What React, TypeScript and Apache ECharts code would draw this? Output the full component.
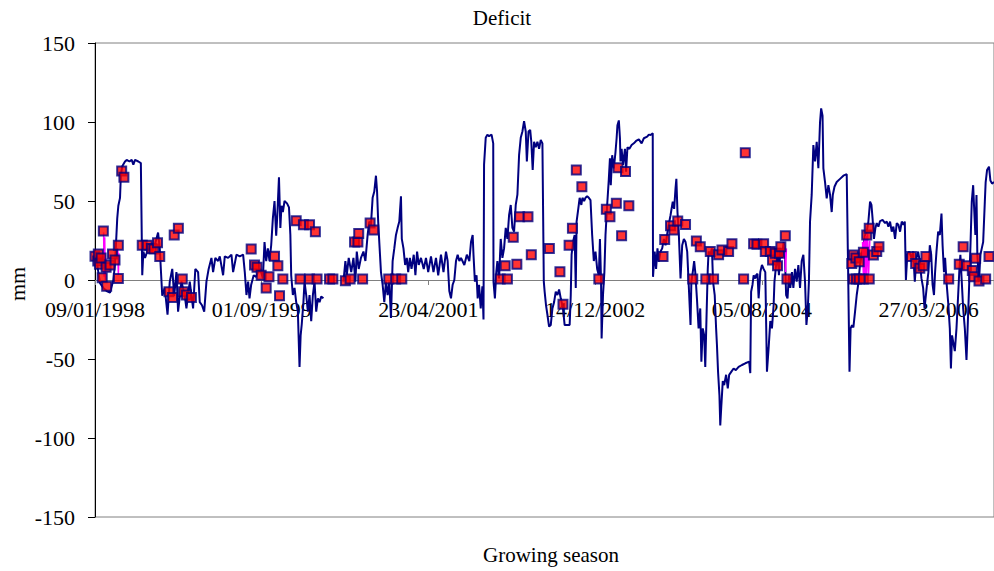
import { useEffect, useRef } from "react";
import * as echarts from "echarts";

// Days counted from the first x tick; a tick every 600 days
const xMin = 0;
const xMax = 3235;
const xInterval = 600;
const xTickLabels = ["09/01/1998", "01/09/1999", "23/04/2001", "14/12/2002", "05/08/2004", "27/03/2006"];
const yMin = -150;
const yMax = 150;
const yInterval = 50;

// Simulated deficit (navy line), day offsets and mm; null = gap in the record
const simDays = [
  0, 6, 12, 18, 30, 42, 54, 66, 72, 80, 84, 90, 93, 98, 108, 114, 124, 132, 138, 144, 156, 165, 170, 174, 180,
  192, 203, 215, 227, 233, 242, 251, 261, 269, 278, 285, 293, 299, 311, 323, 329, 341, 353, 361, 371, 377, 385,
  393, 401, 409, 419, 425, 433, 443, 449, 461, 467, 479, 491, 497, 509, 521, 533, 539, 545, 551, 556, 562, 571,
  580, 586, 595, 604, 610, 616, 622, 628, 634, 640, 646, 652, 656, 662, 667, 671, 676, 682, 691, 698, 703, 706,
  712, 718, 724, 730, 736, 740, 744, 750, 754, 760, 766, 772, 778, 784, 790, 796, 802, 808, 814, 822, 858, 894,
  901, 906, 913, 922, 930, 937, 942, 949, 957, 966, 973, 981, 987, 993, 999, 1005, 1011, 1015, 1019, 1023, 1029,
  1035, 1041, 1047, 1053, 1059, 1065, 1071, 1077, 1083, 1089, 1095, 1101, 1104, 1110, 1116, 1122, 1127, 1133,
  1139, 1147, 1153, 1159, 1165, 1173, 1183, 1191, 1199, 1209, 1218, 1227, 1235, 1245, 1254, 1263, 1269, 1275,
  1281, 1287, 1293, 1299, 1305, 1311, 1317, 1329, 1338, 1347, 1353, 1359, 1362, 1367, 1373, 1377, 1382, 1388,
  1394, 1398, 1400, 1406, 1412, 1418, 1427, 1433, 1434, 1439, 1444, 1448, 1454, 1460, 1466, 1472, 1478, 1484,
  1490, 1496, 1502, 1508, 1514, 1520, 1526, 1532, 1538, 1544, 1550, 1554, 1560, 1566, 1570, 1575, 1580, 1586,
  1592, 1598, 1604, 1610, 1615, 1618, 1623, 1628, 1634, 1640, 1646, 1652, 1658, 1664, 1670, 1676, 1684, 1690,
  1700, 1708, 1712, 1715, 1720, 1726, 1730, 1733, 1739, 1744, 1750, 1754, 1760, 1765, 1771, 1777, 1783, 1789,
  1795, 1801, 1807, 1813, 1817, 1821, 1823, 1828, 1833, 1837, 1843, 1849, 1853, 1856, 1861, 1867, 1873, 1877,
  1880, 1885, 1889, 1891, 1895, 1900, 1907, 1911, 1916, 1923, 1931, 1939, 1947, 1957, 1967, 1975, 1987, 1993,
  1999, 2007, 2008, 2014, 2019, 2024, 2029, 2035, 2041, 2047, 2053, 2062, 2071, 2079, 2084, 2089, 2092, 2096,
  2101, 2107, 2113, 2119, 2125, 2131, 2137, 2143, 2146, 2151, 2156, 2160, 2166, 2172, 2178, 2182, 2187, 2192,
  2196, 2201, 2205, 2208, 2214, 2220, 2224, 2230, 2235, 2238, 2242, 2247, 2250, 2254, 2259, 2264, 2271, 2277,
  2282, 2290, 2298, 2306, 2316, 2328, 2340, 2354, 2358, 2361, 2366, 2370, 2376, 2379, 2384, 2388, 2394, 2400,
  2406, 2412, 2418, 2424, 2430, 2436, 2442, 2445, 2451, 2456, 2461, 2466, 2472, 2478, 2482, 2487, 2492, 2497,
  2502, 2508, 2513, 2519, 2525, 2531, 2537, 2543, 2549, 2555, 2560, 2565, 2569, 2573, 2579, 2585, 2591, 2597,
  2603, 2609, 2613, 2618, 2621, 2627, 2633, 2639, 2645, 2651, 2655, 2661, 2669, 2681, 2693, 2705, 2710, 2715,
  2719, 2724, 2729, 2735, 2741, 2747, 2753, 2759, 2765, 2771, 2777, 2783, 2789, 2794, 2798, 2803, 2808, 2813,
  2819, 2825, 2834, 2843, 2849, 2855, 2861, 2867, 2873, 2879, 2885, 2891, 2897, 2903, 2909, 2914, 2918, 2923,
  2930, 2938, 2944, 2950, 2956, 2962, 2968, 2974, 2980, 2985, 2990, 2995, 2999, 3004, 3009, 3014, 3019, 3023,
  3028, 3034, 3040, 3046, 3050, 3055, 3059, 3064, 3070, 3076, 3080, 3084, 3088, 3094, 3100, 3106, 3110, 3114,
  3119, 3124, 3130, 3136, 3141, 3146, 3150, 3155, 3160, 3163, 3168, 3172, 3175, 3181, 3186, 3191, 3196, 3202,
  3205, 3210, 3217, 3222, 3228, 3235,
];
const simMm = [
  15, 12, 5, -2, -5, -7, -8, 0, 10, 39, 47, 52, 66, 72, 75, 76, 75, 76, 73, 76, 75, 74, 3, 18, 14,
  20, 18, 22, 30, 20, -10, -5, -22, -1, 7, -10, 5, -20, -1, -10, -18, -1, -18, 7, 5, -14, -16,
  -20, -1, 7, 14, 5, 14, 12, 15, 3, 15, 14, 16, 5, 16, 15, 16, 5, -9.5, -1, -11.6, -3, 3,
  2, 5, 7, 1, 24, 12, 20, 12, 22, 39, 50, 28, 41, 65, 33, 47, 43, 50, 48.5, 46, 28.5, 3,
  -9.5, -5, -14, -20, -55, -35, -28, -14, -1, -9.5, -20, -9.5, -26, -9.5, -1, -20, -11.6, -14, -10.5, -11.6, null, -1,
  12, 3, 14, 5, 14, -1, 18, 7, 14, 18, 12, 28.5, 37, 35, 52, 56, 66, 56, 37, 24, 5,
  -3, -14, -1, -9.5, -1, -24, 12, 20, 28.5, 33, 37, 53, 26, 20, 9.5, 14, 5, 14,
  7, 16, 3, 18, 9.5, 14, 7, 14, 5, 15, 5, 14, 3, 16, 5, 18, 12, -7,
  -11.6, -3, 0, 12, 16, 12, 14, 9.5, 16, 12, 24, 28.5, 16, -1, 3, -11.6, -3, -18,
  -4, -25, 73, 90, 92, 91, 92, 86.5, -1, -11.6, 5, 12, 1, 26, 14, 20, 33, 26,
  41, 47.5, 33, 30.6, 47.5, 54, 79, 90, 94, 100.6, 94, 75, 94, 95, 87.5, 69.6, 87.5, 84,
  87.5, 83, 88.6, 86.5, -1, -7.4, -16, -22, -29.5, -28.5, -18, -14, -7.4, -9.5, -6, -11.6, -18, -28.5,
  -28.5, -28.5, -9.5, 16, 24, 28.5, -5, 37, 45, 52, 47.5, 52, 50, 52, 53, 52, 50.6, 28.5,
  12, 18, 7, 3, 26, -1, -37, -9.5, 5, 28.5, 47.5, 64, 77, 60, 79, 70.7, 81, 89.7,
  98, 101, 89.7, 75, 83, 72.8, 83, 68.6, 84, 83, 85.4, 86.5, 88, 89, 86.5, 89.7, 90.7, 92,
  91.8, 92.8, 2, 18, 7, 20, 11.6, 18, 20, 26, 22, 32.7, 41, 49.6, 45, 58, 64, 43,
  28.5, 1, 22, 26, 24, 18, -5, -28.5, -1, 5, 12, 5, -11.6, -30.6, -18, -51.7, -30.6, -35,
  -55, -20, 7, 18, 16, 20, -1, -9.5, -30.6, -41, -58, -73, -92, -79, -64, -66.5, -60, -68.6,
  -60, -58, -56, -57, -55, -53.8, -52.7, -51.7, -59, -7.4, -3, 3, 1, 3, 4, -11.6, 5, 9.5,
  7, 5, -58, -43, -26, -30.6, -16, -1, 9.5, 18, 3, 18, 14, 24, 18, -9.5, -11.6, 3,
  -5, 5, -5, 7, -1, 9.5, -5, 12, 16, -1, -28.5, -18, -1, 37, 54, 85.4, 75, 87.5,
  70.7, 100, 108.6, 104, 70.7, 62, 51.7, 60, 54, 43, 54, 59, 62, 64, 66, 67, 7, -58,
  -30.6, -28.5, -30, -20, -9.5, -2, 10, 16, 22, 28.5, 30.6, 37, 49.6, 47.5, 39, 26, 32.7, 36,
  33.8, 37.3, 38, 36, 37, 33.8, 37, 30.6, 33.8, 26, 36, 35, 30.6, 37, 35, 37, 0, 16,
  18, 14, 18, -1, 14, 18, 11.6, 1, -5, -18, -9.5, -1, 5, 22, 16, -3, -9.5, 5,
  18, 30.6, 28.5, 42, 22, 5, 14, -1, -14, -30.6, -56, -35, -39, -45, -30.6, -9.5, 5, 16,
  -1, -18, -30.6, -50.6, -26, -1, 20, 49.6, 60, 47.5, 28.5, 53.8, 16, -1, 16, 20, 24, 49.6,
  62, 69.6, 71.7, 63, 61, 62,
];

// Observed deficit (red squares)
const obsDays = [
  0, 10, 12, 16, 22, 26, 30, 40, 42, 54, 63, 72, 84, 84, 96, 104,
  170, 188, 203, 212, 225, 233, 266, 279, 285, 300, 314, 318, 329, 347,
  562, 574, 583, 598, 616, 626, 646, 658, 664, 676, 724, 738, 750, 772, 772, 793, 799, 844, 856,
  901, 918, 934, 946, 949, 963, 990, 1003, 1057, 1082, 1104,
  1458, 1476, 1484, 1505, 1518, 1528, 1558, 1570, 1635,
  1673, 1684, 1706, 1718, 1732, 1752, 1813, 1840, 1853, 1876, 1882, 1895, 1909, 1921,
  2044, 2050, 2071, 2083, 2097, 2125, 2151, 2164, 2178, 2198,
  2214, 2226, 2244, 2256, 2280, 2292, 2334, 2340, 2370, 2382, 2406, 2412, 2430, 2438, 2448, 2456, 2463, 2468, 2484, 2490,
  2723, 2729, 2729, 2738, 2740, 2750, 2750, 2765, 2765, 2777, 2786, 2786, 2801, 2813, 2821,
  2938, 2953, 2968, 2980, 2990, 3072, 3110, 3124, 3136, 3157, 3162, 3169, 3181, 3205, 3217,
];
const obsMm = [
  15, 12, 16.5, 10, 14, 1.5, 31, 8, -4, 9.5, 16.5, 12.7, 22, 1, 69, 65,
  22, 22, 20, 19.6, 23.6, 14.8, -7.4, -11, 28.5, 32.7, 0.6, -7.4, -9.5, -11,
  19.6, 9.5, 8, 3, -5, 2, 15, 9, -10, 0.6, 37.5, 0.6, 35, 35, 0.6, 30.6, 0.6, 0.6, 0.6,
  -0.4, 0.6, 24, 24, 29.5, 0.6, 36, 31.6, 0.6, 0.6, 0.6,
  0.6, 9, 0.6, 27, 10, 40, 40, 16, 20,
  5.3, -15.4, 22, 32.7, 69.6, 59, 0.6, 44.7, 40, 48.5, 71, 28, 68.6, 47,
  14.8, 25.7, 34.4, 31.6, 37.3, 35.2, 0.6, 24.7, 21, 0.6,
  18, 0.6, 16, 19, 18, 23, 0.6, 80.6, 23, 22.6, 23, 18, 18, 12.7, 17, 9, 17, 21, 28, 0.6,
  10.5, 15.8, 0.6, 14, 0.6, 11.6, 0.6, 17.5, 0.6, 28.5, 32.7, 0.6, 15.8, 18, 21,
  14.8, 10.5, 7.4, 9, 14.8, 0.6, 10, 21, 9, 6, 2, 13.7, -0.6, 0.6, 14.8,
];

// Magenta series (short bursts joining measurements)
const magDays = [
  31, 33, 35, 37, 39, null, 82, 84, 86, null,
  2482, 2485, 2488, null,
  2762, 2765, 2768, 2771, 2774, 2777, 2780, 2784, 2788,
];
const magMm = [
  30, 2, 27, 0, 14, null, 20, 3, 17, null,
  22, 5, 20, null,
  24, 2, 26, 3, 28, 2, 30, 4, 25,
];

const serif = "'Liberation Serif', 'Times New Roman', serif";

// layout
const gridTop = 43;
const gridBottom = 54;
const chartH = 571;
const plotH = chartH - gridTop - gridBottom;
const zeroOffset = -Math.round((plotH * (0 - yMin)) / (yMax - yMin));

export default function App() {
  const ref = useRef<HTMLDivElement>(null);

  useEffect(() => {
    if (!ref.current) return;
    const chart = echarts.init(ref.current, undefined, { renderer: "svg" });

    const simData = simDays.map((d, i) => [d, simMm[i]]);
    const obsData = obsDays.map((d, i) => [d, obsMm[i]]);
    const magData = magDays.map((d, i) => (d === null ? [null, null] : [d, magMm[i]]));

    chart.setOption({
      animation: false,
      backgroundColor: "#ffffff",
      textStyle: { fontFamily: serif },
      grid: {
        left: 95,
        top: gridTop,
        right: -2,
        bottom: gridBottom,
        show: true,
        borderColor: "#808080",
        borderWidth: 1,
        backgroundColor: "transparent",
      },
      xAxis: {
        type: "value",
        min: xMin,
        max: xMax,
        interval: xInterval,
        position: "bottom",
        offset: zeroOffset,
        axisLine: { onZero: false, lineStyle: { color: "#808080", width: 1 } },
        axisTick: { show: true, length: 5, inside: false, lineStyle: { color: "#808080" } },
        axisLabel: {
          fontFamily: serif,
          fontSize: 22,
          color: "#000",
          margin: 18,
          showMaxLabel: false,
          formatter: (v: number) => xTickLabels[Math.round(v / xInterval)] ?? "",
        },
        splitLine: { show: false },
      },
      yAxis: {
        type: "value",
        min: yMin,
        max: yMax,
        interval: yInterval,
        axisLine: { show: true, onZero: false, lineStyle: { color: "#000", width: 1 } },
        axisTick: { show: true, length: 7, inside: false, lineStyle: { color: "#000" } },
        axisLabel: { fontFamily: serif, fontSize: 22, color: "#000", margin: 20 },
        splitLine: { show: false },
      },
      graphic: [
        {
          type: "text",
          x: 502,
          y: 18,
          style: {
            text: "Deficit",
            fontFamily: serif,
            fontSize: 21,
            fill: "#000",
            textAlign: "center",
            textVerticalAlign: "middle",
          },
        },
        {
          type: "text",
          x: 551,
          y: 555,
          style: {
            text: "Growing season",
            fontFamily: serif,
            fontSize: 21,
            fill: "#000",
            textAlign: "center",
            textVerticalAlign: "middle",
          },
        },
        {
          type: "text",
          x: 17,
          y: 284,
          rotation: Math.PI / 2,
          style: {
            text: "mm",
            fontFamily: serif,
            fontSize: 22,
            fill: "#000",
            textAlign: "center",
            textVerticalAlign: "middle",
          },
        },
      ],
      series: [
        {
          name: "Simulated",
          type: "line",
          data: simData,
          symbol: "none",
          showSymbol: false,
          connectNulls: false,
          lineStyle: { color: "#000080", width: 2 },
          z: 2,
        },
        {
          name: "Magenta",
          type: "line",
          data: magData,
          symbol: "none",
          showSymbol: false,
          connectNulls: false,
          lineStyle: { color: "#FF00FF", width: 1.5 },
          z: 3,
        },
        {
          name: "Observed",
          type: "scatter",
          data: obsData,
          symbol: "rect",
          symbolSize: 9,
          itemStyle: { color: "#FF0000", borderColor: "#000080", borderWidth: 2 },
          z: 4,
        },
      ],
    });

    return () => chart.dispose();
  }, []);

  return (
    <div
      ref={ref}
      style={{ position: "absolute", left: 0, top: 0, width: 994, height: 571, background: "#fff" }}
    />
  );
}
